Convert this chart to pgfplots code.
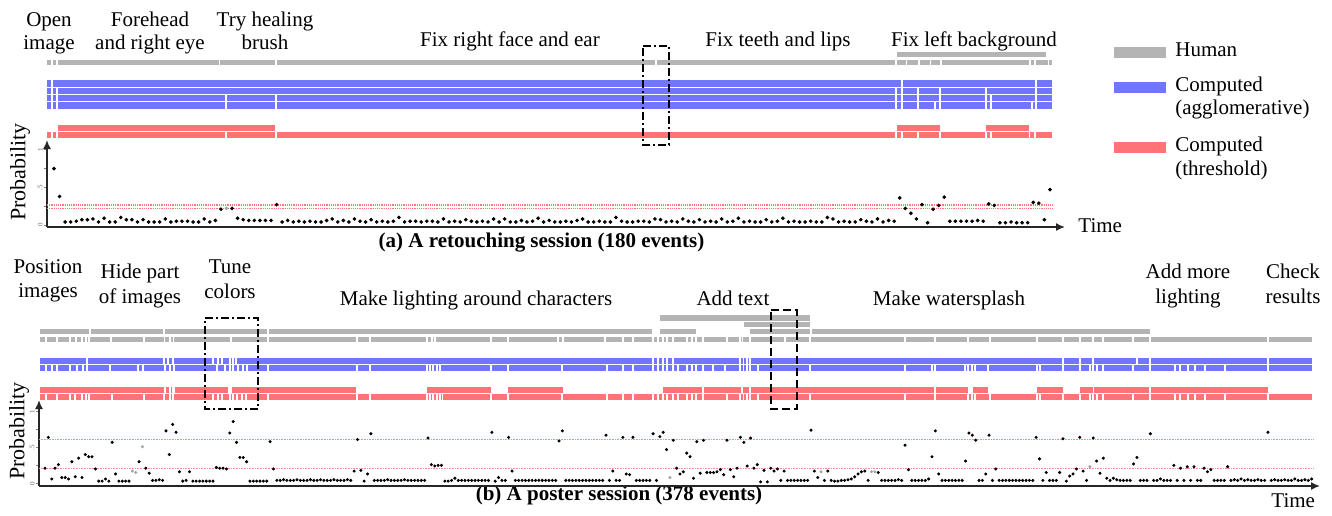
\documentclass[border=0pt]{standalone}
\usepackage{fontspec}
\setmainfont{Liberation Serif}
\usepackage{pgfplots}
\pgfplotsset{compat=1.18}
\usetikzlibrary{arrows.meta}
\definecolor{barg}{RGB}{180,180,180}
\definecolor{barb}{RGB}{114,118,255}
\definecolor{barr}{RGB}{255,115,119}
\definecolor{thr}{RGB}{255,140,140}
\definecolor{thra}{RGB}{255,120,120}
\definecolor{dotg}{RGB}{165,165,165}
% a row of bars from #3 to #4 at height #2, broken at the positions in #5
\newcommand\brow[5]{%
  \xdef\bcoords{}%
  \xdef\bprev{#3}%
  \foreach \bk in {#5} {%
    \pgfmathsetmacro\bA{\bk-0.8}%
    \xdef\bcoords{\bcoords (\bprev,#2) (\bA,#2) (nan,nan)}%
    \pgfmathsetmacro\bB{\bk+0.8}%
    \xdef\bprev{\bB}%
  }%
  \xdef\bcoords{\bcoords (\bprev,#2) (#4,#2)}%
  \edef\doplot{\noexpand\addplot[mark=none,\unexpanded{#1}] coordinates {\bcoords};}\doplot
}
\tikzset{lbl/.style={font=\fontsize{10.5}{12}\selectfont, inner sep=0pt},
  boxst/.style={draw=black, line width=1.1pt, dash pattern=on 4pt off 1.5pt on 1pt off 1.5pt, mark=none},
  thrband/.style={mark=none, draw=thra, line width=0.9pt, dash pattern=on 0.6pt off 0.5pt}}
\begin{document}
\begin{tikzpicture}
\useasboundingbox (0,0) rectangle (666pt,-257.5pt);
% ---------------- overlay axis in pixel units ----------------
\begin{axis}[at={(0,0)}, anchor=north west, scale only axis, width=666pt, height=257.5pt,
  xmin=0, xmax=1332, ymin=0, ymax=515, y dir=reverse, hide axis, clip=false, unbounded coords=jump]
% ===== panel (a) =====
\addplot[mark=none, draw=barg, line width=2.5pt] coordinates {(897,54) (1046,54)};
\brow{draw=barg, line width=2.5pt}{62}{47}{1052}{52,57,219.5,276,656,896,906.5,919,930.5,941,1030,1035,1048.5}
\brow{draw=barb, line width=3.15pt}{83.5}{47}{1052}{52,902,1036}
\brow{draw=barb, line width=3.15pt}{90.8}{47}{1052}{52,57,896,902,918,940,986,1036}
\brow{draw=barb, line width=3.15pt}{98.1}{47}{1052}{52,57,226,276,896,902,918,940,986,991,1036}
\brow{draw=barb, line width=3.15pt}{105.4}{47}{1052}{52,57,226,276,896,902,918,935,940,986,991,1032,1036}
\addplot[mark=none, draw=barr, line width=3pt] coordinates {(58,128) (275,128) (nan,nan) (897,128) (940,128) (nan,nan) (986,128) (1029,128)};
\brow{draw=barr, line width=3pt}{135.4}{47}{1052}{52,57,226,276,896,902,918,940,986,991,1029.5,1035}
\addplot[boxst] coordinates {(643,46) (669,46) (669,145) (643,145) (643,46)};
% labels (a)
\node[lbl,anchor=base] at (axis cs:49,26.7) {Open};
\node[lbl,anchor=base] at (axis cs:49,49.3) {image};
\node[lbl,anchor=base] at (axis cs:150,26.7) {Forehead};
\node[lbl,anchor=base] at (axis cs:150,49.3) {and right eye};
\node[lbl,anchor=base] at (axis cs:265,26.7) {Try healing};
\node[lbl,anchor=base] at (axis cs:265,49.3) {brush};
\node[lbl,anchor=base] at (axis cs:510,46) {Fix right face and ear};
\node[lbl,anchor=base] at (axis cs:778,46) {Fix teeth and lips};
\node[lbl,anchor=base] at (axis cs:974,46) {Fix left background};
\node[lbl,anchor=base west] at (axis cs:1078,232) {Time};
\node[lbl,font=\fontsize{11}{12}\selectfont,rotate=90] at (axis cs:20,172) {Probability};
\node[lbl,font=\fontsize{10.5}{12}\selectfont\bfseries,anchor=base] at (axis cs:541.5,247.5) {(a) A retouching session (180 events)};
% legend
\addplot[mark=none, draw=barg, line width=5.5pt] coordinates {(1114,52) (1166,52)};
\addplot[mark=none, draw=barb, line width=5.5pt] coordinates {(1114,87) (1166,87)};
\addplot[mark=none, draw=barr, line width=5.5pt] coordinates {(1114,147) (1166,147)};
\node[lbl,anchor=base west] at (axis cs:1175,56.5) {Human};
\node[lbl,anchor=base west] at (axis cs:1175,91) {Computed};
\node[lbl,anchor=base west] at (axis cs:1175,114.3) {(agglomerative)};
\node[lbl,anchor=base west] at (axis cs:1175,151.7) {Computed};
\node[lbl,anchor=base west] at (axis cs:1175,175) {(threshold)};
% ===== panel (b) =====
\addplot[mark=none, draw=barg, line width=2.6pt] coordinates {(660,318) (810,318)};
\addplot[mark=none, draw=barg, line width=2.6pt] coordinates {(744,324.7) (810,324.7)};
\brow{draw=barg, line width=2.6pt}{331.6}{40}{652}{90,164,268}
\addplot[mark=none, draw=barg, line width=2.6pt] coordinates {(660,331.6) (696,331.6)};
\brow{draw=barg, line width=2.6pt}{331.6}{750}{1150}{811}
\brow{draw=barg, line width=2.8pt}{339.4}{40}{1312}{46,57,70,76,82,86,89,111,144,164.5,170,173.5,231,268,357,370,427,432,435,491,508,558,563,605,623,633,653,658,663,667,673,687,692,696,703,727,740,742.5,750,785,810,905,935,968,990,1037,1063,1080,1093,1103,1133,1150,1268}
\brow{draw=barb, line width=3.1pt}{360.9}{40}{1312}{87,164,168,173,213,218,222,230,233,236,653,658,663,667,673,740,743.5,747,750,1063,1080,1093,1137,1150,1268}
\brow{draw=barb, line width=3.1pt}{368.3}{40}{1312}{46,52,57,70,77,83,87,110,138,143,165,170,174,217,225,230,233,238,243,247,268,357,370,427,430,433,437,440,491,508,562,607,623,633,653,658,663,667,673,678,687,692,696,703,713,725,740,743.5,747,750,758,810,905,932,935,965,968,972,975,988,1037,1040,1063,1080,1090,1093,1097,1103,1133,1150,1175,1180,1188,1195,1205,1225,1268}
\brow{draw=barr, line width=3pt}{390}{40}{172}{165,170}
\addplot[mark=none, draw=barr, line width=3pt] coordinates {(175,390) (228,390) (nan,nan) (232,390) (356,390) (nan,nan) (427,390) (491,390) (nan,nan) (508,390) (563,390) (nan,nan) (973,390) (988,390) (nan,nan) (1037,390) (1063,390)};
\brow{draw=barr, line width=3pt}{390}{663}{968}{703,742,750,935}
\brow{draw=barr, line width=3pt}{390}{1080}{1268}{1093.5,1150}
\brow{draw=barr, line width=3pt}{396.8}{40}{1312}{46,57,70,75,82,86,89,112,144,164,170,173,213,218,222,230,233,237,242,246,268,357,370,427,430,433,437,440,442,491,508,562,607,623,633,653,658,663,667,673,678,687,692,696,703,727,740,743.5,747,750,758,810,905,935,968,972,975,990,1037,1040,1063,1080,1090,1093,1097,1103,1133,1150,1175,1180,1188,1195,1205,1225,1268}
\addplot[boxst] coordinates {(205,318) (258,318) (258,409) (205,409) (205,318)};
\addplot[boxst, dash pattern=on 4pt off 2pt] coordinates {(771,310) (797,310) (797,409) (771,409) (771,310)};
% labels (b)
\node[lbl,anchor=base] at (axis cs:48,273.3) {Position};
\node[lbl,anchor=base] at (axis cs:48,297) {images};
\node[lbl,anchor=base] at (axis cs:140,278.3) {Hide part};
\node[lbl,anchor=base] at (axis cs:140,303.3) {of images};
\node[lbl,anchor=base] at (axis cs:230,273.3) {Tune};
\node[lbl,anchor=base] at (axis cs:230,298.3) {colors};
\node[lbl,anchor=base] at (axis cs:476,305) {Make lighting around characters};
\node[lbl,anchor=base] at (axis cs:733,305) {Add text};
\node[lbl,anchor=base] at (axis cs:949,305) {Make watersplash};
\node[lbl,anchor=base] at (axis cs:1188,278.3) {Add more};
\node[lbl,anchor=base] at (axis cs:1188,303.3) {lighting};
\node[lbl,anchor=base] at (axis cs:1293,278.3) {Check};
\node[lbl,anchor=base] at (axis cs:1293,303.3) {results};
\node[lbl,anchor=base west] at (axis cs:1271,507.7) {Time};
\node[lbl,font=\fontsize{11}{12}\selectfont,rotate=90] at (axis cs:19,431) {Probability};
\node[lbl,font=\fontsize{10.5}{12}\selectfont\bfseries,anchor=base] at (axis cs:619,500) {(b) A poster session (378 events)};
\end{axis}
% ---------------- scatter (a) ----------------
\begin{axis}[at={(23.5pt,-113.5pt)}, anchor=south west, scale only axis, width=509pt, height=43.5pt,
  xmin=-1.26, xmax=181.7, ymin=-0.027, ymax=1.13, axis lines=left,
  axis line style={line width=0.8pt, draw=black!85, -{Latex[length=4.5pt,width=4pt]}},
  xtick=\empty, ytick={0,0.5,1}, yticklabels={0,.5,1}, minor ytick={0.25,0.75},
  tick align=outside, major tick length=1.5pt, minor tick length=1.5pt,
  tick style={draw=black!50, line width=0.3pt},
  yticklabel style={rotate=90, font=\fontsize{3.5}{4}\selectfont, text=black!60, inner sep=0.5pt}, clip=false]
\addplot[thrband] coordinates {(-1.26,0.262) (179.5,0.262)};
\addplot[thrband] coordinates {(-1.26,0.218) (179.5,0.218)};
\addplot[only marks, mark=*, mark size=0.7pt, black] table[row sep=\\, x expr=\coordindex, y index=0] {
0.75\\0.38\\0.04\\0.04\\0.05\\0.07\\0.07\\0.08\\0.04\\0.09\\
0.04\\0.04\\0.10\\0.07\\0.07\\0.04\\0.07\\0.04\\0.04\\0.04\\
0.08\\0.04\\0.05\\0.05\\0.05\\0.04\\0.04\\0.08\\0.04\\0.06\\
0.21\\nan\\0.22\\0.09\\0.07\\0.06\\0.06\\0.06\\0.06\\0.06\\
0.27\\0.04\\0.06\\0.04\\0.05\\0.04\\0.05\\0.04\\0.04\\0.06\\
0.08\\0.04\\0.06\\0.04\\0.08\\0.05\\0.04\\0.07\\0.04\\0.05\\
0.04\\0.05\\0.10\\0.04\\0.05\\0.05\\0.04\\0.05\\0.05\\0.04\\
0.08\\0.04\\0.05\\0.04\\0.07\\0.05\\0.04\\0.05\\0.04\\0.08\\
0.04\\0.08\\0.04\\0.04\\0.06\\0.04\\0.05\\0.09\\0.04\\0.06\\
0.04\\0.04\\0.05\\0.04\\0.06\\0.08\\0.04\\0.04\\0.05\\0.04\\
0.04\\0.10\\0.05\\0.04\\0.04\\0.05\\0.05\\0.04\\0.08\\0.07\\
0.04\\0.05\\0.04\\0.08\\0.05\\0.04\\0.07\\0.04\\0.05\\0.04\\
0.08\\0.04\\0.05\\0.09\\0.04\\0.05\\0.04\\0.04\\0.07\\0.04\\
0.05\\0.09\\0.04\\0.05\\0.04\\0.04\\0.05\\0.04\\0.04\\0.10\\
0.08\\0.04\\0.05\\0.04\\0.04\\0.07\\0.05\\0.04\\0.08\\0.04\\
0.06\\0.05\\0.36\\0.22\\0.155\\0.08\\0.27\\0.03\\0.21\\0.26\\
0.37\\0.05\\0.05\\0.05\\0.05\\0.05\\0.06\\0.05\\0.28\\0.26\\
0.03\\0.03\\0.04\\0.03\\0.03\\0.03\\0.30\\0.29\\0.07\\0.47\\
};
\addplot[only marks, mark=*, mark size=0.7pt, dotg] coordinates {(31,0.22)};
\end{axis}
% ---------------- scatter (b) ----------------
\begin{axis}[at={(19.5pt,-243pt)}, anchor=south west, scale only axis, width=640.5pt, height=43pt,
  xmin=-1.79, xmax=379.5, ymin=-0.038, ymax=1.16, axis lines=left,
  axis line style={line width=0.8pt, draw=black!85, -{Latex[length=4.5pt,width=4pt]}},
  xtick=\empty, ytick={0,0.5,1}, yticklabels={0,.5,1}, minor ytick={0.25,0.75},
  tick align=outside, major tick length=1.5pt, minor tick length=1.5pt,
  tick style={draw=black!50, line width=0.3pt},
  yticklabel style={rotate=90, font=\fontsize{3.5}{4}\selectfont, text=black!60, inner sep=0.5pt}, clip=false]
\addplot[mark=none, draw=thr, line width=0.45pt, dash pattern=on 0.4pt off 0.4pt] coordinates {(-1.79,0.605) (377.5,0.605)};
\addplot[mark=none, draw=thr, line width=0.45pt, dash pattern=on 0.4pt off 0.4pt] coordinates {(-1.79,0.21) (377.5,0.21)};
\addplot[only marks, mark=*, mark size=0.55pt, black] table[row sep=\\, x expr=\coordindex, y index=0] {
0.21\\0.64\\0.06\\0.21\\0.26\\0.08\\0.08\\0.06\\0.30\\0.09\\
0.35\\0.08\\0.40\\0.37\\0.37\\0.20\\0.03\\0.03\\0.06\\0.03\\
0.57\\0.13\\0.03\\0.03\\0.03\\0.03\\nan\\nan\\0.30\\nan\\
0.21\\0.14\\0.04\\0.04\\0.05\\0.04\\0.73\\0.40\\0.82\\0.71\\
0.16\\0.03\\0.04\\0.16\\0.03\\0.03\\0.03\\0.03\\0.03\\0.03\\
0.03\\0.22\\0.21\\0.21\\0.20\\0.70\\0.86\\0.57\\0.36\\0.36\\
0.30\\0.03\\0.03\\0.03\\0.03\\0.03\\0.03\\0.58\\0.20\\0.04\\
0.04\\0.05\\0.04\\0.04\\0.04\\0.05\\0.04\\0.04\\0.04\\0.05\\
0.04\\0.04\\0.05\\0.04\\0.04\\0.04\\0.05\\0.04\\0.04\\0.04\\
0.05\\0.04\\0.17\\0.61\\0.18\\0.03\\0.13\\0.69\\0.04\\0.04\\
0.04\\0.04\\0.05\\0.04\\0.04\\0.04\\0.04\\0.05\\0.04\\0.04\\
0.04\\0.04\\0.04\\0.04\\0.63\\0.26\\0.24\\0.25\\0.25\\0.03\\
0.03\\0.04\\0.07\\0.04\\0.04\\0.04\\0.04\\0.04\\0.04\\0.04\\
0.04\\0.04\\0.04\\0.71\\0.03\\0.08\\0.04\\0.04\\0.64\\0.17\\
0.04\\0.04\\0.04\\0.04\\0.04\\0.04\\0.04\\0.04\\0.04\\0.04\\
0.04\\0.04\\0.04\\0.59\\0.73\\0.04\\0.04\\0.04\\0.04\\0.04\\
0.04\\0.04\\0.04\\0.04\\0.04\\0.04\\0.04\\0.67\\0.04\\0.17\\
0.04\\0.04\\0.64\\0.13\\0.12\\0.64\\0.04\\0.04\\0.04\\0.04\\
0.04\\0.69\\0.04\\0.65\\0.71\\0.47\\nan\\0.60\\0.21\\0.13\\
0.16\\0.42\\0.37\\0.07\\0.58\\0.14\\0.60\\0.15\\0.15\\0.15\\
0.16\\0.19\\0.12\\0.60\\0.19\\0.09\\0.21\\0.64\\0.57\\0.24\\
0.63\\0.21\\0.26\\0.02\\0.18\\0.02\\0.21\\0.17\\0.20\\0.04\\
0.17\\0.04\\0.04\\0.04\\0.04\\0.04\\0.04\\0.04\\0.74\\0.17\\
0.08\\nan\\0.04\\0.17\\0.04\\0.03\\0.03\\0.04\\0.04\\0.05\\
0.06\\0.09\\0.13\\0.16\\0.17\\0.04\\nan\\nan\\0.15\\0.04\\
0.04\\0.04\\0.04\\0.04\\0.05\\0.04\\0.53\\0.19\\0.04\\0.04\\
0.04\\0.04\\0.04\\0.06\\0.37\\0.73\\0.13\\0.04\\0.04\\0.04\\
0.04\\0.04\\0.04\\0.04\\0.31\\0.70\\0.67\\0.60\\0.04\\0.04\\
0.13\\0.67\\0.04\\0.20\\0.04\\0.04\\0.04\\0.04\\0.04\\0.04\\
0.04\\0.04\\0.04\\0.04\\0.04\\0.64\\0.34\\0.04\\0.15\\0.04\\
0.04\\0.04\\0.15\\0.62\\0.03\\0.10\\0.13\\0.20\\0.64\\0.17\\
0.04\\nan\\0.63\\0.31\\0.14\\0.35\\0.07\\0.04\\0.07\\0.05\\
0.04\\0.04\\0.04\\0.04\\0.27\\0.36\\0.04\\0.04\\0.04\\0.69\\
0.04\\0.04\\0.06\\0.04\\0.04\\0.04\\0.25\\0.04\\0.21\\0.04\\
0.23\\0.04\\0.23\\0.04\\0.04\\0.21\\0.16\\0.19\\0.04\\0.04\\
0.04\\0.04\\0.23\\0.04\\0.05\\0.04\\0.06\\0.04\\0.05\\0.04\\
0.04\\0.05\\0.04\\0.04\\0.71\\0.04\\0.05\\0.04\\0.04\\0.05\\
0.04\\0.04\\0.06\\0.04\\0.04\\0.05\\0.04\\0.06\\
};
\addplot[only marks, mark=*, mark size=0.55pt, dotg] coordinates {(26,0.17) (27,0.15) (29,0.51) (186,0.08) (231,0.16) (246,0.16) (247,0.16) (311,0.23)};
\end{axis}
\end{tikzpicture}
\end{document}
